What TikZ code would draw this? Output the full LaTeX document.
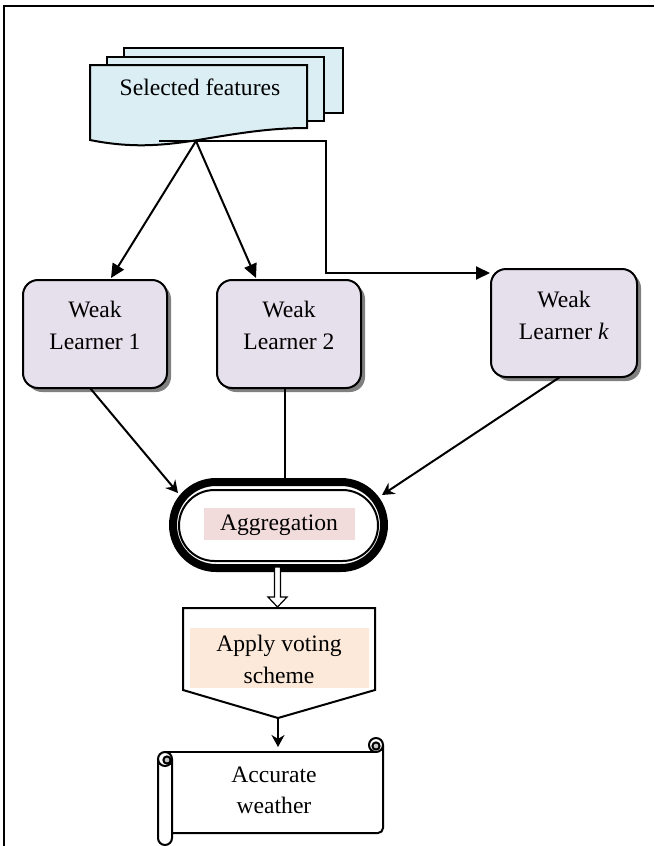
\documentclass[tikz,border=0pt]{standalone}
\usepackage{fontspec}
\setmainfont{Liberation Serif}
\usetikzlibrary{arrows.meta,shadows}
\definecolor{docblue}{HTML}{DBEEF4}
\definecolor{lav}{HTML}{E5E0EC}
\definecolor{aggpink}{HTML}{F2DCDB}
\definecolor{peach}{HTML}{FDE9D9}
\begin{document}
\begin{tikzpicture}[x=0.5pt,y=-0.5pt,
  lbl/.style={font=\fontsize{11.8}{16}\selectfont, inner sep=0pt, anchor=base},
  learner/.style={draw, line width=1pt, fill=lav, rounded corners=7.5pt,
    minimum width=72pt, minimum height=54pt, inner sep=0pt,
    drop shadow={shadow xshift=2pt, shadow yshift=-2pt, fill=black!50, opacity=1}},
  sheet/.style={draw, line width=1pt, fill=docblue},
  conn/.style={line width=1pt},
  tip/.style={-{Triangle[length=7pt,width=6.5pt]}},
  stip/.style={-{Stealth[length=6pt,width=6.5pt]}},
  scrl/.style={line width=1pt},
]
\useasboundingbox (0,0) rectangle (654,846);
% page frame
\draw[line width=0.9pt] (654,6) -- (4,6) -- (4,846);

% stacked feature sheets
\draw[sheet] (124,48) rectangle (343,113);
\draw[sheet] (107,57) rectangle (324,121);
\draw[sheet] (90,65) -- (307,65) -- (307,128)
  .. controls (270,128) and (240,133) .. (198,140)
  .. controls (160,146) and (130,148) .. (90,140) -- cycle;
\node[lbl] (feat) at (200,95) {Selected features};

% weak learners
\node[learner] (wl1) at (95,334) {};
\node[learner] (wl2) at (289,334) {};
\node[learner, minimum width=73pt] (wlk) at (564,323) {};
\node[lbl] (wl1a) at (95,317) {Weak};
\node[lbl] (wl1b) at (95,349) {Learner 1};
\node[lbl] (wl2a) at (289,317) {Weak};
\node[lbl] (wl2b) at (289,349) {Learner 2};
\node[lbl] (wlka) at (564,307) {Weak};
\node[lbl] (wlkb) at (564,339) {Learner \textit{k}};

% connectors from the features
\coordinate (fsplit) at (196,141);
\coordinate (fleft) at (159,141);
\coordinate (bend) at (326,141);
\coordinate (wl1in) at (111,278);
\coordinate (wl2in) at (256,278);
\coordinate (wlkin) at (490,273);
\draw[conn,tip] (fleft) -- (bend) |- (wlkin);
\draw[conn,tip] (fsplit) -- (wl1in);
\draw[conn,tip] (fsplit) -- (wl2in);

% aggregation
\node[draw, line width=4pt, minimum width=105.5pt, minimum height=43pt,
  rounded corners=21.5pt, inner sep=0pt] (agg) at (278.5,525) {};
\node[draw, line width=1pt, minimum width=99.5pt, minimum height=35.5pt,
  rounded corners=17.75pt, inner sep=0pt] (agginner) at (278.5,525.5) {};
\fill[aggpink] (204,508) rectangle (355,540);
\node[lbl] (aggtxt) at (279,530) {Aggregation};

\coordinate (wl1out) at (90,388);
\coordinate (wl2out) at (285,388);
\coordinate (wlkout) at (560,377);
\coordinate (aggL) at (178,493);
\coordinate (aggT) at (285,478);
\coordinate (aggR) at (382,495);
\draw[conn,stip] (wl1out) -- (aggL);
\draw[conn] (wl2out) -- (aggT);
\draw[conn,stip] (wlkout) -- (aggR);

% hollow block arrow
\draw[line width=0.6pt, fill=white] (274.5,567) -- (280.5,567) -- (280.5,597)
  -- (287,597) -- (277.5,607) -- (268,597) -- (274.5,597) -- cycle;

% voting step
\draw[line width=1pt, fill=white] (183,608) -- (375,608) -- (375,690)
  -- (278,718) -- (183,690) -- cycle;
\fill[peach] (190,628) rectangle (369,688);
\node[lbl] (vote1) at (279,651) {Apply voting};
\node[lbl] (vote2) at (279,683) {scheme};
\coordinate (votetip) at (278,718);
\coordinate (scrolltop) at (278,747);
\draw[conn,stip] (votetip) -- (scrolltop);

% output scroll
\draw[scrl] (165,752) -- (376,752);
\draw[scrl, rounded corners=2.5pt] (383,745) -- (383,833) -- (172,833);
\draw[scrl, rounded corners=3.5pt] (158,759) -- (158,845) -- (172,845) -- (172,759);
\draw[scrl] (165,759) circle[radius=3.5pt];
\draw[scrl, fill=gray!45] (167,760) circle[radius=1.8pt];
\draw[scrl, fill=white] (376,745) circle[radius=3.5pt];
\draw[scrl, fill=gray!45] (376,746) circle[radius=1.8pt];
\node[lbl] (out1) at (274,782) {Accurate};
\node[lbl] (out2) at (274,813) {weather};
\end{tikzpicture}
\end{document}
